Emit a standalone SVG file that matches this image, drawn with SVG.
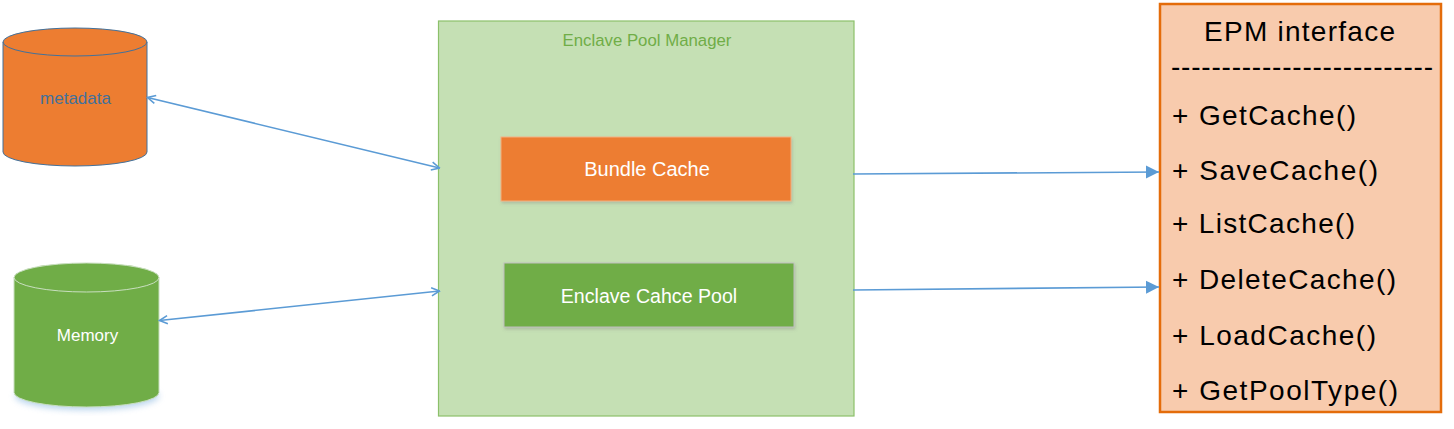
<svg xmlns="http://www.w3.org/2000/svg" width="1454" height="429" viewBox="0 0 1454 429">
  <style>
    .conn { fill: none; stroke: #5B9BD5; stroke-width: 1.6; }
    .sans { font-family: "Liberation Sans", Arial, sans-serif; }
    .white { fill: #FFFFFF; }
    .epm { font-family: "Liberation Sans", Arial, sans-serif; font-size: 28px; fill: #000000; }
  </style>
  <defs>
    <marker id="openArrow" viewBox="0 0 10 10" refX="9" refY="5" markerWidth="10" markerHeight="10" markerUnits="userSpaceOnUse" orient="auto-start-reverse">
      <path d="M1,1 L9,5 L1,9" fill="none" stroke="#5B9BD5" stroke-width="1.6"/>
    </marker>
    <marker id="filledArrow" viewBox="0 0 14 14" refX="13" refY="7" markerWidth="14" markerHeight="14" markerUnits="userSpaceOnUse" orient="auto">
      <path d="M0,0.5 L13,7 L0,13.5 Z" fill="#5B9BD5"/>
    </marker>
    <filter id="shadow" x="-10%" y="-20%" width="120%" height="150%">
      <feDropShadow dx="1" dy="2" stdDeviation="1.5" flood-color="#7F7F7F" flood-opacity="0.35"/>
    </filter>
    <filter id="glow" x="-20%" y="-20%" width="140%" height="140%">
      <feGaussianBlur stdDeviation="3"/>
    </filter>
  </defs>

  <g id="metadata">
    <path d="M3,42 A72,14 0 0,1 147,42 V152 A72,14 0 0,1 3,152 Z" fill="#ED7D31" stroke="#41719C" stroke-width="1"/>
    <path d="M3,42 A72,14 0 0,0 147,42" fill="none" stroke="#41719C" stroke-width="1"/>
    <text class="sans" x="75.5" y="104" font-size="17" text-anchor="middle" fill="#41719C">metadata</text>
  </g>

  <g id="memory">
    <ellipse cx="87" cy="396" rx="72" ry="14" fill="#9DC3E6" opacity="0.7" filter="url(#glow)"/>
    <path d="M14,277.5 A72.5,14.5 0 0,1 159,277.5 V392.5 A72.5,14.5 0 0,1 14,392.5 Z" fill="#70AD47" stroke="#C9DFC0" stroke-width="1"/>
    <path d="M14,277.5 A72.5,14.5 0 0,0 159,277.5" fill="none" stroke="#C9DFC0" stroke-width="1"/>
    <text class="sans white" x="87.5" y="341" font-size="17" text-anchor="middle">Memory</text>
  </g>

  <g id="enclave-pool-manager">
    <rect x="438.5" y="21" width="415.5" height="395" fill="#C5E0B4" stroke="#8CC06A" stroke-width="1.2"/>
    <text class="sans" x="647" y="46" font-size="16.8" text-anchor="middle" fill="#70AD47">Enclave Pool Manager</text>
  </g>

  <g id="bundle-cache">
    <rect x="501" y="137" width="290" height="64" fill="#ED7D31" stroke="#F4B183" stroke-width="1" filter="url(#shadow)"/>
    <text class="sans white" x="647" y="176" font-size="20" text-anchor="middle">Bundle Cache</text>
  </g>

  <g id="enclave-cache-pool">
    <rect x="504" y="263" width="290" height="64" fill="#70AD47" stroke="#BFBFBF" stroke-width="1" filter="url(#shadow)"/>
    <text class="sans white" x="649" y="303" font-size="19.6" text-anchor="middle">Enclave Cahce Pool</text>
  </g>

  <g id="epm-interface">
    <rect x="1160" y="4" width="281" height="408" fill="#F8CBAD" stroke="#E46C0A" stroke-width="2.5"/>
    <text class="epm" x="1204" y="41" textLength="191" lengthAdjust="spacing">EPM interface</text>
    <text class="epm" x="1171" y="76" textLength="262" lengthAdjust="spacing">--------------------------</text>
    <text class="epm" x="1172" y="125" textLength="184" lengthAdjust="spacing">+ GetCache()</text>
    <text class="epm" x="1172" y="180" textLength="206" lengthAdjust="spacing">+ SaveCache()</text>
    <text class="epm" x="1172" y="233" textLength="183" lengthAdjust="spacing">+ ListCache()</text>
    <text class="epm" x="1172" y="289" textLength="224" lengthAdjust="spacing">+ DeleteCache()</text>
    <text class="epm" x="1172" y="345" textLength="204" lengthAdjust="spacing">+ LoadCache()</text>
    <text class="epm" x="1172" y="400" textLength="226" lengthAdjust="spacing">+ GetPoolType()</text>
  </g>

  <g id="connectors">
    <line class="conn" x1="147.5" y1="97.5" x2="439.5" y2="168" marker-start="url(#openArrow)" marker-end="url(#openArrow)"/>
    <line class="conn" x1="159.5" y1="320.5" x2="439.5" y2="291" marker-start="url(#openArrow)" marker-end="url(#openArrow)"/>
    <line class="conn" x1="853" y1="174" x2="1159" y2="172" marker-end="url(#filledArrow)"/>
    <line class="conn" x1="853" y1="290" x2="1159" y2="287" marker-end="url(#filledArrow)"/>
  </g>
</svg>
